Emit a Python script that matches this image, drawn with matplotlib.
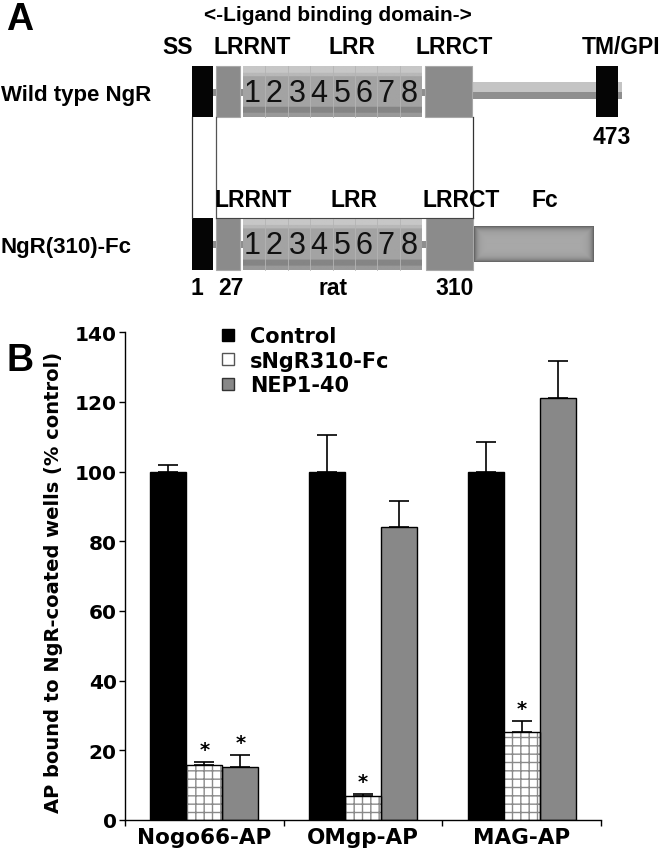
import numpy as np
import matplotlib
matplotlib.use('Agg')
import matplotlib.pyplot as plt
from matplotlib.patches import Rectangle
from matplotlib.lines import Line2D

# ---------------- data: panel B ----------------
groups = ['Nogo66-AP', 'OMgp-AP', 'MAG-AP']
series_names = ['Control', 'sNgR310-Fc', 'NEP1-40']
control_vals = [100.0, 100.0, 100.0]
control_err = [2.0, 10.5, 8.6]
sngr_vals = [15.8, 6.8, 25.3]
sngr_err = [0.8, 0.7, 3.1]
nep_vals = [15.1, 84.0, 121.1]
nep_err = [3.6, 7.5, 10.6]
control_sig = [False, False, False]
sngr_sig = [True, True, True]
nep_sig = [True, False, False]
yticks = [0, 20, 40, 60, 80, 100, 120, 140]
ylabel = 'AP bound to NgR-coated wells (% control)'

# ---------------- labels: panel A ----------------
construct_names = ['Wild type NgR', 'NgR(310)-Fc']
wt_domain_labels = ['SS', 'LRRNT', 'LRR', 'LRRCT', 'TM/GPI']
fc_domain_labels = ['LRRNT', 'LRR', 'LRRCT', 'Fc']
repeat_labels = ['1', '2', '3', '4', '5', '6', '7', '8']
residue_labels = ['1', '27', 'rat', '310']
wt_end_label = '473'
ligand_label = '<-Ligand binding domain->'

W, H = 660, 853
fig = plt.figure(figsize=(W / 100, H / 100), dpi=100)
fig.patch.set_facecolor('white')

FA = 'Liberation Sans'
FB = 'DejaVu Sans'

# ================= Panel A (schematic, pixel layout) =================
axA = fig.add_axes([0, 0, 1, 1])
axA.set_xlim(0, W)
axA.set_ylim(H, 0)
axA.axis('off')


def rect(x0, x1, y0, y1, fc, ec='none', lw=0, z=2):
    axA.add_patch(Rectangle((x0, y0), x1 - x0, y1 - y0, facecolor=fc,
                            edgecolor=ec, linewidth=lw, zorder=z))


def lrr_box(y0, y1):
    n = 60
    prof = np.full(n, 0.64)
    t = np.linspace(0, 1, n)
    prof[t < 0.12] = 0.78
    prof[(t >= 0.12) & (t < 0.2)] = 0.72
    prof[(t >= 0.8) & (t < 0.93)] = 0.52
    prof[t >= 0.93] = 0.60
    img = np.tile(prof[:, None], (1, 10))
    axA.imshow(img, cmap='gray', vmin=0, vmax=1, extent=(243, 422, y1, y0),
               origin='upper', aspect='auto', interpolation='bilinear', zorder=2)
    for k in range(1, 8):
        xd = 243 + (422 - 243) * k / 8
        axA.plot([xd, xd], [y0, y1], color='#b4b4b4', lw=0.6, zorder=2.5)
    xs = [252, 274, 297, 319, 342, 364, 386, 409]
    for lab, xx in zip(repeat_labels, xs):
        axA.text(xx, (y0 + y1) / 2 + 1, lab, family=FA, fontsize=22,
                 ha='center', va='center', color='#111111', zorder=3)


def fc_box(x0, x1, y0, y1):
    ny, nx = 40, 120
    yy = np.linspace(0, 1, ny)[:, None]
    xx = np.linspace(0, 1, nx)[None, :]
    dy = np.minimum(yy, 1 - yy) * (y1 - y0)
    dx = np.minimum(xx, 1 - xx) * (x1 - x0)
    d = np.minimum(dx, dy)
    img = 0.66 - 0.26 * np.exp(-d / 3.0)
    axA.imshow(img, cmap='gray', vmin=0, vmax=1, extent=(x0, x1, y1, y0),
               origin='upper', aspect='auto', interpolation='bilinear', zorder=2)


# row 1: wild type
r1y0, r1y1 = 67, 118
rect(192, 622, 90, 97, '#8e8e8e', z=1)
rect(192, 213, r1y0, r1y1, '#050505')
rect(216, 240, r1y0, r1y1, '#8b8b8b', ec='#a8a8a8', lw=0.8)
lrr_box(r1y0, r1y1)
rect(425, 472, r1y0, r1y1, '#8b8b8b', ec='#a8a8a8', lw=0.8)
rect(472, 622, 83, 93, '#c4c4c4', z=1.5)
rect(472, 622, 93, 100, '#8e8e8e', z=1.5)
rect(596, 618, r1y0, r1y1, '#050505')

# row 2: NgR(310)-Fc
r2y0, r2y1 = 219, 271
rect(192, 430, 242, 249, '#8e8e8e', z=1)
rect(192, 213, r2y0, r2y1, '#050505')
rect(216, 240, r2y0, r2y1, '#8b8b8b', ec='#a8a8a8', lw=0.8)
lrr_box(r2y0, r2y1)
rect(426, 473, r2y0, r2y1, '#8b8b8b', ec='#a8a8a8', lw=0.8)
fc_box(474, 594, 227, 263)

# connecting lines
for xc, col in [(192, '#333333'), (216, '#555555'), (473, '#333333')]:
    axA.plot([xc, xc], [r1y1, r2y0], color=col, lw=0.9, zorder=3)
axA.plot([216, 473], [r2y0, r2y0], color='#444444', lw=0.8, zorder=3)

# panel A text
axA.text(20, 20, 'A', family=FA, fontweight='bold', fontsize=27,
         ha='center', va='center')
axA.text(338, 15, ligand_label, family=FA, fontweight='bold', fontsize=15,
         ha='center', va='center')
for lab, xx in zip(wt_domain_labels, [178, 252, 352, 454, 621]):
    axA.text(xx, 47, lab, family=FA, fontweight='bold', fontsize=16.5,
             ha='center', va='center')
for lab, xx in zip(fc_domain_labels, [253, 354, 461, 545]):
    axA.text(xx, 200, lab, family=FA, fontweight='bold', fontsize=16.5,
             ha='center', va='center')
for lab, xx in zip(residue_labels, [197, 231, 333, 455]):
    axA.text(xx, 288, lab, family=FA, fontweight='bold', fontsize=16.5,
             ha='center', va='center')
axA.text(612, 137, wt_end_label, family=FA, fontweight='bold', fontsize=16.5,
         ha='center', va='center')
axA.text(1, 95, construct_names[0], family=FA, fontweight='bold', fontsize=16,
         ha='left', va='center')
axA.text(1, 247, construct_names[1], family=FA, fontweight='bold', fontsize=16,
         ha='left', va='center')

# ================= Panel B (bar chart) =================
x0, x1, ytop, ybot = 125, 601, 333.3, 821
axB = fig.add_axes([x0 / W, (H - ybot) / H, (x1 - x0) / W, (ybot - ytop) / H])
axB.patch.set_alpha(0)

x = np.arange(len(groups))
w = 36 / ((x1 - x0) / 3)

col_ctrl = '#000000'
col_nep = '#888888'

# control
axB.bar(x - w, control_vals, w, color=col_ctrl, edgecolor='black', lw=1, zorder=2)
# sNgR: hatched fill with grey grid, then black outline
axB.bar(x, sngr_vals, w, color='white', edgecolor='#8a8a8a', hatch='++',
        lw=0, zorder=2)
axB.bar(x, sngr_vals, w, color='none', edgecolor='black', lw=1, zorder=2.5)
# NEP
axB.bar(x + w, nep_vals, w, color=col_nep, edgecolor='black', lw=1, zorder=2)

for off, vals, errs, sig in [(-w, control_vals, control_err, control_sig),
                             (0, sngr_vals, sngr_err, sngr_sig),
                             (w, nep_vals, nep_err, nep_sig)]:
    axB.errorbar(x + off, vals, yerr=[np.zeros(len(errs)), errs], fmt='none',
                 ecolor='black', elinewidth=1.2, capsize=7, capthick=1.2, zorder=3)
    for xi, v, e, s in zip(x + off, vals, errs, sig):
        if s:
            axB.text(xi, v + e + 0.8, '*', family=FB, fontweight='bold',
                     fontsize=14, ha='center', va='bottom')

axB.set_xlim(-0.5, len(groups) - 0.5)
axB.set_ylim(0, 140)
axB.set_yticks(yticks)
axB.set_yticklabels([str(t) for t in yticks])
axB.set_xticks(np.arange(len(groups) + 1) - 0.5)
axB.set_xticklabels([])
axB.set_xticks(x, minor=True)
axB.set_xticklabels(groups, minor=True)
axB.tick_params(axis='x', which='major', direction='out', length=4, width=1)
axB.tick_params(axis='x', which='minor', length=0, pad=5)
axB.tick_params(axis='y', direction='out', length=4, width=1, pad=2)
for lab in axB.get_xticklabels(minor=True):
    lab.set_family(FB)
    lab.set_fontweight('bold')
    lab.set_fontsize(15.5)
for lab in axB.get_yticklabels():
    lab.set_family(FB)
    lab.set_fontweight('bold')
    lab.set_fontsize(14.5)
for sp in ['top', 'right']:
    axB.spines[sp].set_visible(False)
for sp in ['left', 'bottom']:
    axB.spines[sp].set_linewidth(1)

axB.set_ylabel(ylabel, family=FB, fontweight='bold', fontsize=14)
axB.yaxis.set_label_coords((63 - x0) / (x1 - x0), 0.49)

handles = [
    Line2D([], [], ls='none', marker='s', markersize=8, markerfacecolor='black',
           markeredgecolor='black'),
    Line2D([], [], ls='none', marker='s', markersize=8, markerfacecolor='white',
           markeredgecolor='#555555'),
    Line2D([], [], ls='none', marker='s', markersize=8, markerfacecolor=col_nep,
           markeredgecolor='#333333'),
]
leg = fig.legend(handles, series_names, loc='upper left',
                 bbox_to_anchor=(218 / W, (H - 327) / H), frameon=False,
                 prop={'family': FB, 'weight': 'bold', 'size': 15},
                 handlelength=1.0, handletextpad=0.55, labelspacing=0.22,
                 borderpad=0, borderaxespad=0)

fig.text(20 / W, (H - 361) / H, 'B', family=FA, fontweight='bold', fontsize=27,
         ha='center', va='center')

fig.savefig('out.png', dpi=100, facecolor='white')
